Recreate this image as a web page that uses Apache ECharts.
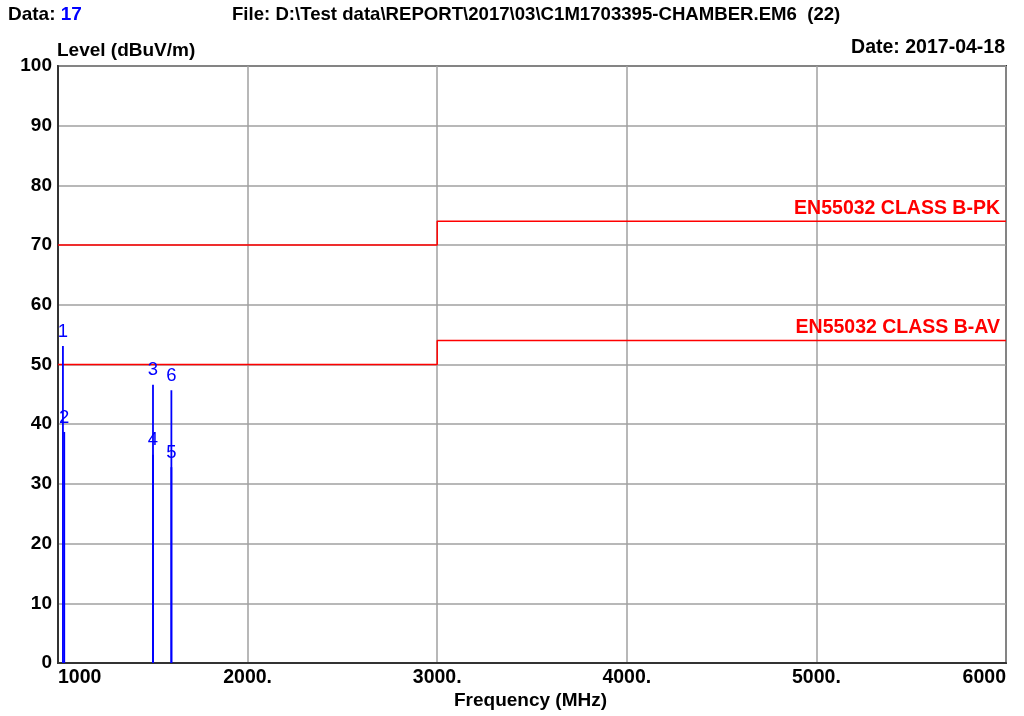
<!DOCTYPE html>
<html><head><meta charset="utf-8">
<script src="https://cdn.jsdelivr.net/npm/echarts@6/dist/echarts.min.js"></script>
<style>html,body{margin:0;padding:0;background:#fff}#c{width:1024px;height:716px}</style>
</head><body><div id="c"></div>
<script>
// Marker data
const markerIds   = ['1','2','3','4','5','6'];
const markerFreqs = [1026, 1033, 1501, 1501, 1598, 1598];
const markerLevels= [53.1, 38.7, 46.6, 34.9, 32.8, 45.7];
// Limit lines
const pkLimitFreqs  = [1000, 3000, 3000, 6000];
const pkLimitLevels = [70, 70, 74, 74];
const avLimitFreqs  = [1000, 3000, 3000, 6000];
const avLimitLevels = [50, 50, 54, 54];
const pkName = 'EN55032 CLASS B-PK';
const avName = 'EN55032 CLASS B-AV';
// Axis ticks
const xTicks = [1000, 2000, 3000, 4000, 5000, 6000];
const xTickLabels = ['1000', '2000.', '3000.', '4000.', '5000.', '6000'];

const FONT = 'Liberation Sans, Arial, sans-serif';
const chart = echarts.init(document.getElementById('c'), null, {renderer:'canvas'});

function limitSeries(fs, ls, name){
  return {type:'line', name:name, data:fs.map((f,i)=>[f, ls[i]]), symbol:'none', showSymbol:false,
    lineStyle:{color:'#ff0000', width:1.5}, z:3,
    endLabel:{show:true, formatter:name, color:'#ff0000', fontFamily:FONT, fontWeight:'bold', fontSize:19.5,
      align:'right', verticalAlign:'bottom', offset:[-6,-3], distance:0}
  };
}

const option = {
  animation:false,
  backgroundColor:'#ffffff',
  grid:{left:58, right:18, top:66, bottom:53, show:true, borderColor:'#333', borderWidth:2, backgroundColor:'#fff'},
  graphic:[
    {type:'text', left:8, top:5, style:{text:'{a|Data: }{b|17}', rich:{a:{fill:'#000',font:'bold 19px '+FONT}, b:{fill:'#0000ff',font:'bold 19px '+FONT}}}},
    {type:'text', left:232, top:5, style:{text:'File: D:\\Test data\\REPORT\\2017\\03\\C1M1703395-CHAMBER.EM6  (22)', fill:'#000', font:'bold 18.6px '+FONT}},
    {type:'text', right:19, top:38, style:{text:'Date: 2017-04-18', fill:'#000', font:'bold 19.5px '+FONT}},
    {type:'text', left:57, top:41, style:{text:'Level (dBuV/m)', fill:'#000', font:'bold 19px '+FONT}},
    {type:'text', left:454, top:691, style:{text:'Frequency (MHz)', fill:'#000', font:'bold 19px '+FONT}}
  ],
  xAxis:{type:'value', min:1000, max:6000, interval:1000,
    axisLine:{show:true, lineStyle:{color:'#333', width:2}},
    axisTick:{show:false},
    splitLine:{show:true, lineStyle:{color:'#a0a0a0', width:1.5}},
    axisLabel:{color:'#000', fontFamily:FONT, fontWeight:'bold', fontSize:19.5, margin:5,
      alignMinLabel:'left', alignMaxLabel:'right',
      formatter:v=>{const i=xTicks.indexOf(v); return i>=0?xTickLabels[i]:'';}}
  },
  yAxis:{type:'value', min:0, max:100, interval:10,
    axisLine:{show:true, lineStyle:{color:'#333', width:2}},
    axisTick:{show:false},
    splitLine:{show:true, lineStyle:{color:'#a0a0a0', width:1.5}},
    axisLabel:{color:'#000', fontFamily:FONT, fontWeight:'bold', fontSize:19, margin:6}
  },
  series:[
    limitSeries(pkLimitFreqs, pkLimitLevels, pkName),
    limitSeries(avLimitFreqs, avLimitLevels, avName),
    {type:'custom', name:'markers', z:5,
      data: markerFreqs.map((f,i)=>[f, markerLevels[i], i]),
      renderItem:(params, api)=>{
        const top = api.coord([api.value(0), api.value(1)]);
        const bot = api.coord([api.value(0), 0]);
        const id = markerIds[api.value(2)];
        return {type:'group', children:[
          {type:'line', shape:{x1:top[0], y1:top[1], x2:bot[0], y2:bot[1]}, style:{stroke:'#0000ff', lineWidth:1.8}},
          {type:'text', x:top[0], y:top[1]-14.5, style:{text:id, fill:'#0000ff', font:'18.5px '+FONT, align:'center', verticalAlign:'middle'}}
        ]};
      }
    }
  ]
};
chart.setOption(option);
</script></body></html>
